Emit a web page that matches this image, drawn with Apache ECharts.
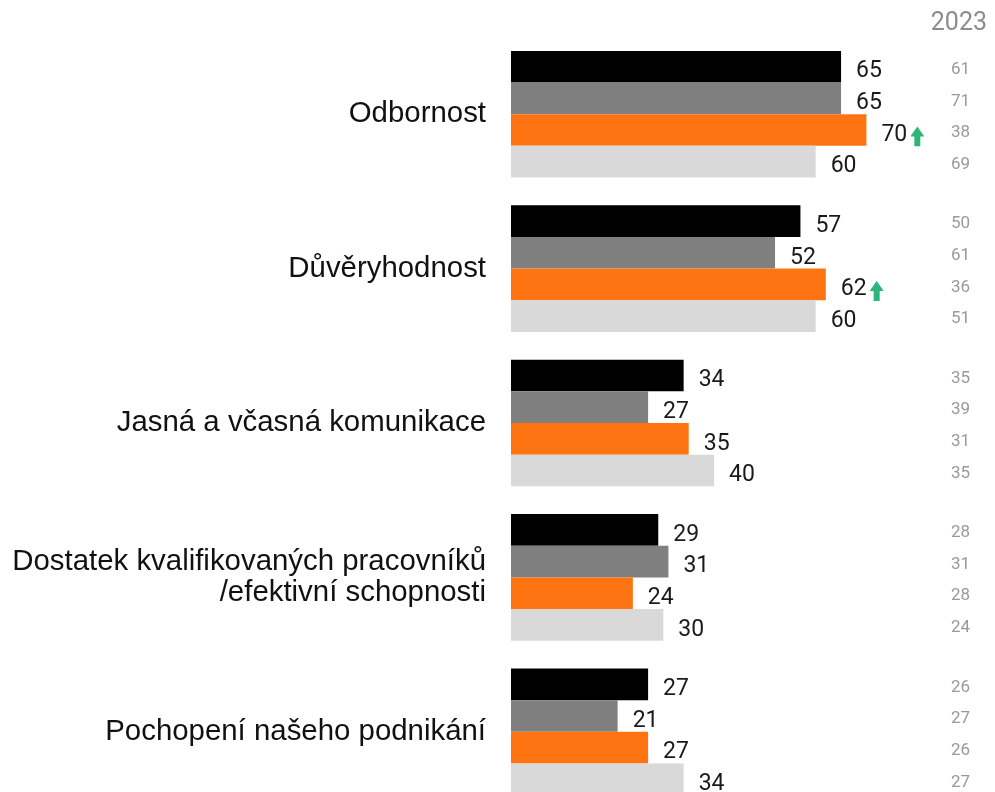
<!DOCTYPE html>
<html>
<head>
<meta charset="utf-8">
<script src="https://cdn.jsdelivr.net/npm/echarts@6/dist/echarts.min.js"></script>
<style>
  html, body { margin: 0; padding: 0; background: #fff; }
  #chart { width: 995px; height: 792px; }
</style>
</head>
<body>
<div id="chart"></div>
<script>
// Categories, top to bottom
const categories = [
  'Odbornost',
  'Důvěryhodnost',
  'Jasná a včasná komunikace',
  'Dostatek kvalifikovaných pracovníků\n/efektivní schopnosti',
  'Pochopení našeho podnikání'
];

// Current values for the four groups (black, grey, orange, light grey)
const valuesBlack  = [65, 57, 34, 29, 27];
const valuesGrey   = [65, 52, 27, 31, 21];
const valuesOrange = [70, 62, 35, 24, 27];
const valuesLight  = [60, 60, 40, 30, 34];

// Orange values marked with a green up arrow
const orangeUp = [true, true, false, false, false];

// 2023 comparison values, one list per group
const prevBlack  = [61, 50, 35, 28, 26];
const prevGrey   = [71, 61, 39, 31, 27];
const prevOrange = [38, 36, 31, 28, 26];
const prevLight  = [69, 51, 35, 24, 27];

const prevHeader = '2023';

const colors = ['#000000', '#7f7f7f', '#ff7412', '#d9d9d9'];
const current = [valuesBlack, valuesGrey, valuesOrange, valuesLight];
const previous = [prevBlack, prevGrey, prevOrange, prevLight];
const seriesNames = ['Série 1', 'Série 2', 'Série 3', 'Série 4'];

const arrowSvg = "<svg xmlns='http://www.w3.org/2000/svg' width='14' height='15' viewBox='0 0 14 15'>" +
  "<path d='M7 0 L14 7.5 L10 7.5 L10 15 L4 15 L4 7.5 L0 7.5 Z' fill='#2bb77a'/></svg>";
const arrowUri = 'data:image/svg+xml;charset=utf-8,' + encodeURIComponent(arrowSvg);

const gridTop = 37;
const gridHeight = 772;
const bandGap = '18%';

const valueFont = 'Roboto';

const mainSeries = current.map((vals, i) => ({
  name: seriesNames[i],
  type: 'bar',
  xAxisIndex: 0,
  yAxisIndex: 0,
  data: vals,
  barGap: '0%',
  barCategoryGap: bandGap,
  itemStyle: { color: colors[i] },
  label: {
    show: true,
    position: 'right',
    distance: 15,
    offset: [0, 5],
    formatter: (p) => {
      if (i === 2 && orangeUp[p.dataIndex]) {
        return '{v|' + p.value + '}{sp|}{up|}';
      }
      return '{v|' + p.value + '}';
    },
    rich: {
      v: { fontFamily: valueFont, fontSize: 23, color: '#1a1a1a' },
      sp: { width: 3, height: 14 },
      up: { width: 14, height: 14, backgroundColor: { image: arrowUri }, verticalAlign: 'bottom', padding: [0, 0, 6, 0] }
    }
  }
}));

// Right-hand column of 2023 values, laid out on the same category bands
const prevSeries = previous.map((vals, i) => ({
  name: seriesNames[i] + ' 2023',
  type: 'bar',
  xAxisIndex: 1,
  yAxisIndex: 1,
  data: vals,
  barGap: '0%',
  barCategoryGap: bandGap,
  itemStyle: { color: 'rgba(0,0,0,0)' },
  silent: true,
  label: {
    show: true,
    position: 'right',
    distance: 0,
    offset: [0, 3],
    fontFamily: valueFont,
    fontSize: 17,
    color: '#999999'
  }
}));

const chart = echarts.init(document.getElementById('chart'), null, { renderer: 'canvas' });
chart.setOption({
  animation: false,
  backgroundColor: '#ffffff',
  title: {
    text: prevHeader,
    right: 3,
    top: 6,
    textStyle: { fontFamily: valueFont, fontSize: 25, fontWeight: 'normal', color: '#8c8c8c' }
  },
  grid: [
    { left: 511, width: 457, top: gridTop, height: gridHeight, containLabel: false, outerBoundsMode: 'none' },
    { left: 951, width: 30, top: gridTop, height: gridHeight, containLabel: false, outerBoundsMode: 'none' }
  ],
  xAxis: [
    { type: 'value', gridIndex: 0, min: 0, max: 90, show: false },
    { type: 'value', gridIndex: 1, min: 0, max: 1000000, show: false }
  ],
  yAxis: [
    {
      type: 'category',
      gridIndex: 0,
      data: categories,
      inverse: true,
      axisLine: { show: false },
      axisTick: { show: false },
      splitLine: { show: false },
      axisLabel: {
        margin: 25,
        fontFamily: 'Liberation Sans',
        fontSize: 29.4,
        lineHeight: 31,
        padding: [4, 0, 0, 0],
        color: '#111111',
        align: 'right'
      }
    },
    {
      type: 'category',
      gridIndex: 1,
      data: categories,
      inverse: true,
      show: false
    }
  ],
  series: mainSeries.concat(prevSeries)
});
</script>
</body>
</html>
